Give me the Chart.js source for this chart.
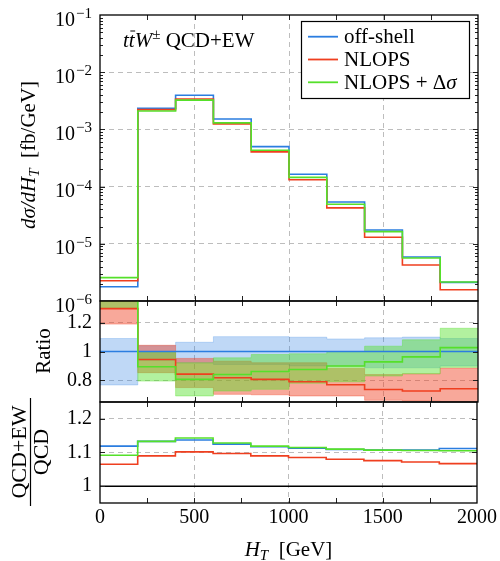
<!DOCTYPE html>
<html>
<head>
<meta charset="utf-8">
<script src="https://cdn.jsdelivr.net/npm/chart.js@4.4.1/dist/chart.umd.min.js"></script>
<style>
html, body { margin: 0; padding: 0; background: #fff; }
#wrap { position: relative; width: 500px; height: 561px; }
#wrap canvas { position: absolute; left: 0; top: 0; }
</style>
</head>
<body>
<div id="wrap">
  <canvas id="cTop" width="500" height="561"></canvas>
  <canvas id="cMid" width="500" height="561"></canvas>
  <canvas id="cBot" width="500" height="561"></canvas>
</div>
<script>
// ---- data (HT bins of 200 GeV) ----
const binEdges = [0, 200, 400, 600, 800, 1000, 1200, 1400, 1600, 1800];
const xMax = 2000;
const seriesNames = ['off-shell', 'NLOPS', 'NLOPS + Δσ'];

// top panel: dsigma/dHT [fb/GeV]
const offShell = [1.78e-6, 2.34e-3, 3.95e-3, 1.52e-3, 4.99e-4, 1.64e-4, 5.37e-5, 1.74e-5, 5.89e-6, 2.12e-6];
const nlops    = [2.26e-6, 2.22e-3, 3.40e-3, 1.25e-3, 4.05e-4, 1.32e-4, 4.25e-5, 1.30e-5, 4.27e-6, 1.57e-6];
const nlopsDs  = [2.56e-6, 2.10e-3, 3.25e-3, 1.30e-3, 4.33e-4, 1.45e-4, 4.90e-5, 1.63e-5, 5.65e-6, 2.15e-6];

// middle panel: ratio to off-shell, with uncertainty bands
const ratioOff     = [1, 1, 1, 1, 1, 1, 1, 1, 1, 1];
const ratioOffLo   = [0.768, 0.94, 0.92, 0.91, 0.91, 0.90, 0.90, 0.887, 0.887, 0.90];
const ratioOffHi   = [1.09, 1.04, 1.064, 1.103, 1.103, 1.099, 1.087, 1.095, 1.10, 1.09];
const ratioNlo     = [1.297, 0.945, 0.843, 0.818, 0.807, 0.79, 0.77, 0.737, 0.726, 0.742];
const ratioNloLo   = [1.19, 0.853, 0.75, 0.703, 0.70, 0.692, 0.692, 0.662, 0.657, 0.62];
const ratioNloHi   = [1.45, 1.043, 0.952, 0.933, 0.922, 0.922, 0.883, 0.84, 0.846, 0.885];
const ratioNloDs   = [1.44, 0.894, 0.807, 0.841, 0.861, 0.875, 0.899, 0.928, 0.963, 1.027];
const ratioNloDsLo = [1.30, 0.795, 0.692, 0.726, 0.738, 0.78, 0.79, 0.83, 0.846, 0.89];
const ratioNloDsHi = [1.60, 0.995, 0.922, 0.956, 0.979, 0.984, 1.0, 1.037, 1.081, 1.161];

// bottom panel: (QCD+EW)/QCD
const kOff   = [1.119, 1.133, 1.137, 1.125, 1.117, 1.113, 1.109, 1.107, 1.107, 1.112];
const kNlo   = [1.065, 1.090, 1.102, 1.097, 1.090, 1.085, 1.080, 1.076, 1.072, 1.067];
const kNloDs = [1.092, 1.133, 1.143, 1.128, 1.119, 1.115, 1.110, 1.107, 1.106, 1.105];

// ticks
const xTickMarks  = [0, 250, 500, 750, 1000, 1250, 1500, 1750, 2000];
const xTickLabels = [0, 500, 1000, 1500, 2000];
const xGridAt     = [500, 1000, 1500];
const decades     = [-6, -5, -4, -3, -2, -1];
const ratioTicks  = [0.8, 1, 1.2];
const kTicks      = [1, 1.1, 1.2];

// ---- style ----
const FONT = "'Liberation Serif', 'DejaVu Serif', serif";
const BLUE = '#2b7de0', RED = '#ef3f1f', GREEN = '#55e02a';
const BLUE_F = 'rgba(43,125,224,0.30)', RED_F = 'rgba(239,63,31,0.45)', GREEN_F = 'rgba(85,224,42,0.45)';
const GRID = '#bdbdbd';

Chart.defaults.font.family = FONT;
Chart.defaults.font.size = 20;
Chart.defaults.color = '#000';
Chart.defaults.animation = false;

function steps(vals) {
  const pts = binEdges.map((e, i) => ({ x: e, y: vals[i] }));
  pts.push({ x: xMax, y: vals[vals.length - 1] });
  return pts;
}
function lineSet(label, vals, color, order) {
  return { label, data: steps(vals), stepped: true, borderColor: color, borderWidth: 1.6,
           pointRadius: 0, fill: false, order };
}
function bandSets(lo, hi, color, order) {
  return [
    { data: steps(hi), stepped: true, borderWidth: 0.8, borderColor: color, pointRadius: 0,
      fill: '+1', backgroundColor: color, order },
    { data: steps(lo), stepped: true, borderWidth: 0.8, borderColor: color, pointRadius: 0,
      fill: false, order }
  ];
}

// rich text: parts = [{t, i(talic), s(ize), dy}]
const fnt = p => (p.i ? 'italic ' : '') + (p.s || 20) + 'px ' + FONT;
function drawRich(ctx, parts, x, y, align) {
  let w = 0;
  parts.forEach(p => { ctx.font = fnt(p); w += ctx.measureText(p.t).width; });
  let cx = align === 'center' ? x - w / 2 : (align === 'right' ? x - w : x);
  ctx.textAlign = 'left';
  ctx.textBaseline = 'alphabetic';
  parts.forEach(p => {
    ctx.font = fnt(p);
    const tw = ctx.measureText(p.t).width;
    ctx.fillText(p.t, cx, y + (p.dy || 0));
    if (p.bar) {
      ctx.beginPath();
      ctx.lineWidth = 1;
      ctx.moveTo(cx + 1.5, y - 15.5);
      ctx.lineTo(cx + tw + 0.5, y - 15.5);
      ctx.stroke();
    }
    cx += tw;
  });
}
// split a label so greek sigma is italic
const labelParts = s => s.split(/(σ)/).filter(t => t).map(t => ({ t, i: t === 'σ' }));

const isDecade = v => Math.abs(Math.log10(v) - Math.round(Math.log10(v))) < 1e-9;

// ---- frame and inward tick marks ----
const framePlugin = {
  id: 'frame',
  afterDatasetsDraw(chart) {
    const { ctx, chartArea: a, scales: { x, y } } = chart;
    ctx.save();
    ctx.strokeStyle = '#222';
    ctx.lineWidth = 1;
    ctx.beginPath();
    x.ticks.forEach(t => {
      if (t.value <= 0 || t.value >= xMax) return;
      const px = Math.round(x.getPixelForValue(t.value)) + 0.5;
      ctx.moveTo(px, a.top); ctx.lineTo(px, a.top + 5);
      ctx.moveTo(px, a.bottom); ctx.lineTo(px, a.bottom - 5);
    });
    y.ticks.forEach(t => {
      const py = Math.round(y.getPixelForValue(t.value)) + 0.5;
      if (py <= a.top + 1 || py >= a.bottom - 1) return;
      const len = (y.type !== 'logarithmic' || isDecade(t.value)) ? 5 : 3;
      ctx.moveTo(a.left, py); ctx.lineTo(a.left + len, py);
      ctx.moveTo(a.right, py); ctx.lineTo(a.right - len, py);
    });
    ctx.stroke();
    ctx.strokeStyle = '#000';
    ctx.lineWidth = 1.3;
    ctx.strokeRect(a.left, a.top, a.right - a.left, a.bottom - a.top);
    ctx.restore();
  }
};

function xScale(showLabels) {
  return {
    type: 'linear', min: 0, max: xMax,
    afterBuildTicks: s => { s.ticks = xTickMarks.map(v => ({ value: v })); },
    afterFit: s => { s.height = showLabels ? 58 : 0; },
    grid: { color: c => (c.tick && xGridAt.includes(c.tick.value)) ? GRID : 'transparent', drawTicks: false },
    border: { display: false, dash: [5, 4] },
    ticks: { display: showLabels, autoSkip: false, maxRotation: 0, padding: 3,
             callback: v => xTickLabels.includes(v) ? String(v) : '' }
  };
}
function baseOptions(pad, yScale, showX) {
  return {
    responsive: false,
    maintainAspectRatio: false,
    animation: false,
    layout: { padding: pad },
    plugins: { legend: { display: false }, tooltip: { enabled: false } },
    scales: { x: xScale(showX), y: yScale }
  };
}

// ---- top panel ----
const topLabels = {
  id: 'topLabels',
  afterDraw(chart) {
    const { ctx, scales: { y } } = chart;
    ctx.save();
    ctx.fillStyle = '#000';
    ctx.strokeStyle = '#000';
    decades.forEach(e => {
      const py = y.getPixelForValue(Math.pow(10, e));
      ctx.font = '15px ' + FONT;
      const sup = '−' + Math.abs(e);
      const ew = ctx.measureText(sup).width;
      ctx.textAlign = 'right';
      ctx.textBaseline = 'alphabetic';
      ctx.fillText(sup, 92, py + 3);
      ctx.font = '20px ' + FONT;
      ctx.fillText('10', 92 - ew - 1, py + 10.5);
    });
    // y title
    ctx.save();
    ctx.translate(35, 155);
    ctx.rotate(-Math.PI / 2);
    drawRich(ctx, [{ t: 'dσ/dH', i: true, s: 21 }, { t: 'T', i: true, s: 15, dy: 4 },
                   { t: '  [fb/GeV]', s: 21 }], 0, 0, 'center');
    ctx.restore();
    // process label
    drawRich(ctx, [{ t: 't', i: true, s: 21 }, { t: 't', i: true, s: 21, bar: true },
                   { t: 'W', i: true, s: 21 }, { t: '±', s: 15, dy: -8 },
                   { t: ' QCD+EW', s: 21 }], 123, 46.5, 'left');
    // legend
    ctx.fillStyle = '#fff';
    ctx.fillRect(301, 21, 168, 77);
    ctx.lineWidth = 1.2;
    ctx.strokeStyle = '#000';
    ctx.strokeRect(301.5, 21.5, 168, 77);
    const cols = [BLUE, RED, GREEN];
    seriesNames.forEach((name, i) => {
      const ly = 36.7 + i * 22.8;
      ctx.strokeStyle = cols[i];
      ctx.lineWidth = 1.8;
      ctx.beginPath();
      ctx.moveTo(308, ly); ctx.lineTo(338, ly);
      ctx.stroke();
      ctx.fillStyle = '#000';
      drawRich(ctx, labelParts(name).map(p => ({ ...p, s: 21 })), 344, ly + 6.5, 'left');
    });
    ctx.restore();
  }
};

new Chart(document.getElementById('cTop'), {
  type: 'line',
  data: { datasets: [
    lineSet(seriesNames[2], nlopsDs, GREEN, 0),
    lineSet(seriesNames[1], nlops, RED, 1),
    lineSet(seriesNames[0], offShell, BLUE, 2)
  ] },
  options: baseOptions({ top: 15, bottom: 260, left: 0, right: 22 }, {
    type: 'logarithmic', min: 1e-6, max: 1e-1,
    afterBuildTicks: s => {
      const t = [];
      decades.forEach(e => { for (let m = 1; m <= 9; m++) { if (e < -1 || m === 1) t.push({ value: m * Math.pow(10, e) }); } });
      s.ticks = t;
    },
    afterFit: s => { s.width = 100; },
    grid: { color: c => (c.tick && isDecade(c.tick.value) && c.tick.value > 1.5e-6 && c.tick.value < 0.09) ? GRID : 'transparent', drawTicks: false },
    border: { display: false, dash: [5, 4] },
    ticks: { autoSkip: false, callback: () => '' }
  }, false),
  plugins: [framePlugin, topLabels]
});

// ---- ratio panel ----
const midLabels = {
  id: 'midLabels',
  afterDraw(chart) {
    const { ctx } = chart;
    ctx.save();
    ctx.fillStyle = '#000';
    ctx.translate(50, 351);
    ctx.rotate(-Math.PI / 2);
    drawRich(ctx, [{ t: 'Ratio', s: 21 }], 0, 0, 'center');
    ctx.restore();
  }
};

new Chart(document.getElementById('cMid'), {
  type: 'line',
  data: { datasets: [
    lineSet(seriesNames[2], ratioNloDs, GREEN, 0),
    lineSet(seriesNames[1], ratioNlo, RED, 1),
    lineSet(seriesNames[0], ratioOff, BLUE, 2),
    ...bandSets(ratioNloDsLo, ratioNloDsHi, GREEN_F, 4),
    ...bandSets(ratioNloLo, ratioNloHi, RED_F, 5),
    ...bandSets(ratioOffLo, ratioOffHi, BLUE_F, 6)
  ] },
  options: baseOptions({ top: 301, bottom: 159, left: 0, right: 22 }, {
    type: 'linear', min: 0.65, max: 1.35,
    afterBuildTicks: s => { s.ticks = ratioTicks.map(v => ({ value: v })); },
    afterFit: s => { s.width = 100; },
    grid: { color: c => (c.tick && c.tick.value !== 1) ? GRID : 'transparent', drawTicks: false },
    border: { display: false, dash: [5, 4] },
    ticks: { autoSkip: false, padding: 8, callback: v => String(v) }
  }, false),
  plugins: [framePlugin, midLabels]
});

// ---- (QCD+EW)/QCD panel ----
const botLabels = {
  id: 'botLabels',
  afterDraw(chart) {
    const { ctx, chartArea: a } = chart;
    ctx.save();
    ctx.fillStyle = '#000';
    ctx.strokeStyle = '#000';
    // fraction label
    ctx.save();
    ctx.translate(30.5, 452);
    ctx.rotate(-Math.PI / 2);
    drawRich(ctx, [{ t: 'QCD+EW', s: 22 }], 0, -5, 'center');
    drawRich(ctx, [{ t: 'QCD', s: 22 }], 0, 17, 'center');
    ctx.lineWidth = 1.2;
    ctx.beginPath();
    ctx.moveTo(-54, 0); ctx.lineTo(54, 0);
    ctx.stroke();
    ctx.restore();
    // x title
    drawRich(ctx, [{ t: 'H', i: true, s: 21 }, { t: 'T', i: true, s: 15, dy: 4 },
                   { t: '  [GeV]', s: 21 }], (a.left + a.right) / 2, 556, 'center');
    ctx.restore();
  }
};

new Chart(document.getElementById('cBot'), {
  type: 'line',
  data: { datasets: [
    lineSet(seriesNames[2], kNloDs, GREEN, 0),
    lineSet(seriesNames[1], kNlo, RED, 1),
    lineSet(seriesNames[0], kOff, BLUE, 2),
    { data: [{ x: 0, y: 1 }, { x: xMax, y: 1 }], borderColor: '#000', borderWidth: 1.5, pointRadius: 0, fill: false, order: 3 }
  ] },
  options: baseOptions({ top: 402, bottom: 0, left: 0, right: 22 }, {
    type: 'linear', min: 0.95, max: 1.25,
    afterBuildTicks: s => { s.ticks = kTicks.map(v => ({ value: v })); },
    afterFit: s => { s.width = 100; },
    grid: { color: c => (c.tick && c.tick.value !== 1) ? GRID : 'transparent', drawTicks: false },
    border: { display: false, dash: [5, 4] },
    ticks: { autoSkip: false, padding: 8, callback: v => String(v) }
  }, true),
  plugins: [framePlugin, botLabels]
});
</script>
</body>
</html>
